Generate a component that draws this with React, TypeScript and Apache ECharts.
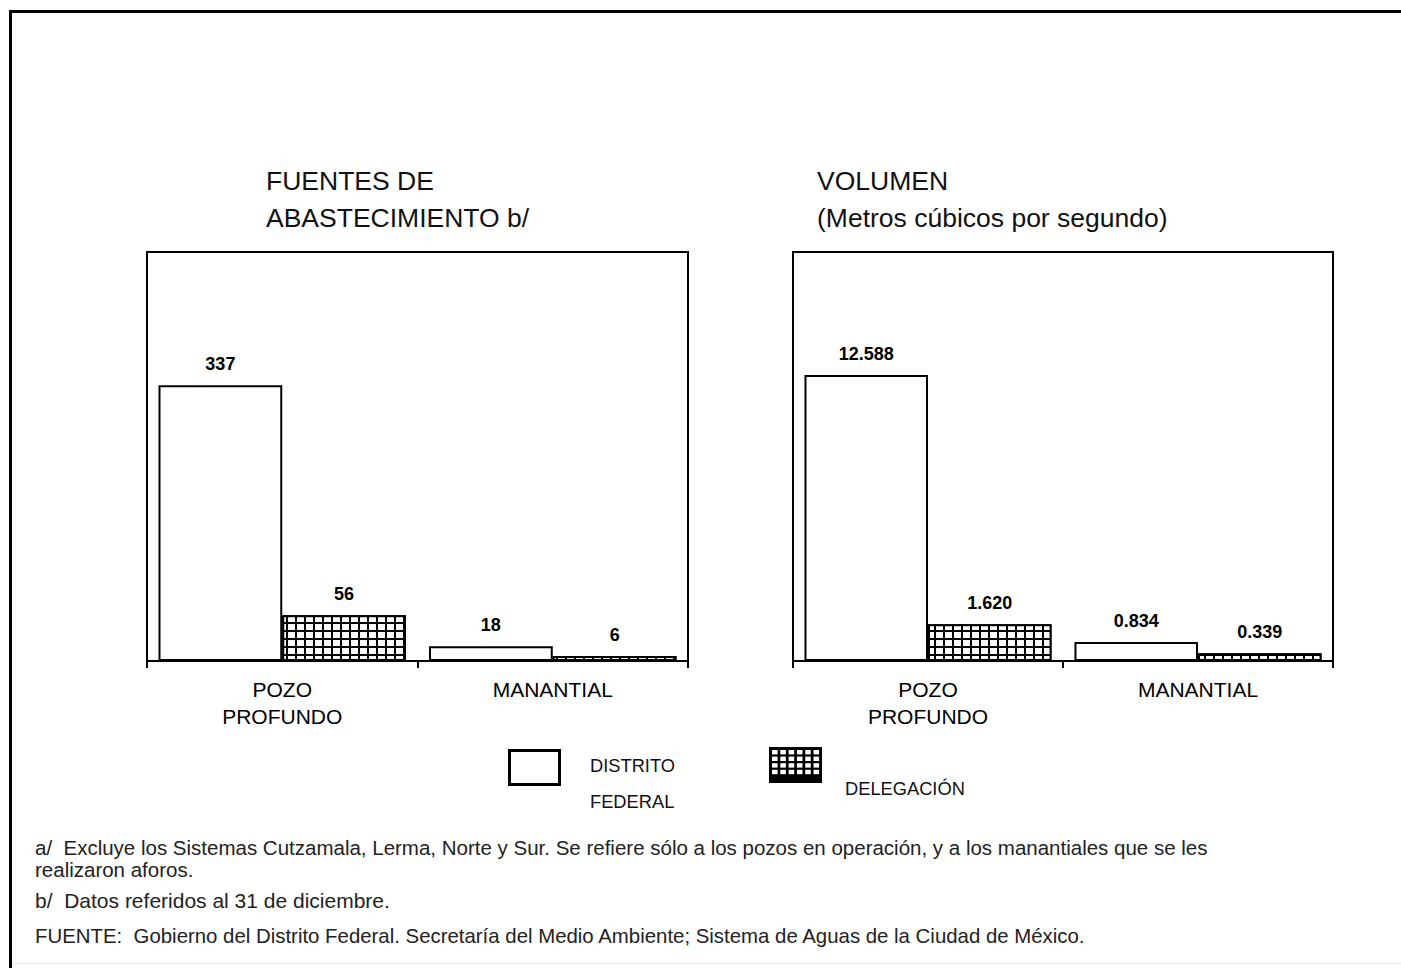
import React, { useEffect, useRef } from "react";
import * as echarts from "echarts";

const categories = ["POZO\nPROFUNDO", "MANANTIAL"];
const seriesNames = ["DISTRITO FEDERAL", "DELEGACIÓN"];
const fuentesDF = [337, 18];
const fuentesDel = [56, 6];
const volumenDF = [12.588, 0.834];
const volumenDel = [1.62, 0.339];
const volumenLabels = { df: ["12.588", "0.834"], del: ["1.620", "0.339"] };
const fuentesMax = 500;
const volumenMax = 18;

const FONT = "Liberation Sans, Arial, Helvetica, sans-serif";

const footnotes = [
  "a/  Excluye los Sistemas Cutzamala, Lerma, Norte y Sur. Se refiere sólo a los pozos en operación, y a los manantiales que se les",
  "realizaron aforos.",
  "b/  Datos referidos al 31 de diciembre.",
  "FUENTE:  Gobierno del Distrito Federal. Secretaría del Medio Ambiente; Sistema de Aguas de la Ciudad de México.",
];

export default function App() {
  const ref = useRef<HTMLDivElement>(null);
  useEffect(() => {
    if (!ref.current) return;
    const chart = echarts.init(ref.current, null, { renderer: "svg" });

    const decal = {
      symbol: "rect",
      symbolSize: 1,
      color: "#ffffff",
      dashArrayX: [7, 2],
      dashArrayY: [6, 2],
      rotation: 0,
    };
    const labelStyle = {
      show: true,
      position: "top" as const,
      distance: 12,
      color: "#000",
      fontFamily: FONT,
      fontWeight: "bold" as const,
      fontSize: 18,
    };
    const mkSeries = (xi: number, df: number[], del: number[], dfLab?: string[], delLab?: string[]) => [
      {
        name: seriesNames[0],
        type: "bar",
        xAxisIndex: xi,
        yAxisIndex: xi,
        data: df,
        barGap: "0%",
        barCategoryGap: "8.5%",
        itemStyle: { color: "#ffffff", borderColor: "#000", borderWidth: 2 },
        label: { ...labelStyle, formatter: dfLab ? (p: any) => dfLab[p.dataIndex] : "{c}" },
      },
      {
        name: seriesNames[1],
        type: "bar",
        xAxisIndex: xi,
        yAxisIndex: xi,
        data: del,
        barGap: "0%",
        barCategoryGap: "8.5%",
        itemStyle: { color: "#000000", borderColor: "#000", borderWidth: 2, decal },
        label: { ...labelStyle, formatter: delLab ? (p: any) => delLab[p.dataIndex] : "{c}" },
      },
    ];
    const xAxis = (gi: number) => ({
      type: "category",
      gridIndex: gi,
      data: categories,
      axisLine: { show: true, lineStyle: { color: "#000", width: 2 } },
      axisTick: { show: true, length: 7, lineStyle: { color: "#000", width: 2 } },
      axisLabel: {
        color: "#000",
        fontFamily: FONT,
        fontSize: 21,
        lineHeight: 27,
        margin: 15,
        interval: 0,
      },
    });
    const yAxis = (gi: number, max: number) => ({
      type: "value",
      gridIndex: gi,
      min: 0,
      max,
      show: false,
      splitLine: { show: false },
    });

    const texts: any[] = [];
    const addText = (t: string, x: number, y: number, size: number, fill = "#111") =>
      texts.push({
        type: "text",
        x,
        y,
        style: { text: t, fontSize: size, fontFamily: FONT, fill, verticalAlign: "middle", align: "left" },
      });
    addText("FUENTES DE", 266, 181, 26.5);
    addText("ABASTECIMIENTO b/", 266, 218, 26.5);
    addText("VOLUMEN", 817, 181, 26.5);
    addText("(Metros cúbicos por segundo)", 817, 218, 26.5);
    addText("DISTRITO", 590, 765, 18.3);
    addText("FEDERAL", 590, 801, 18.3);
    addText("DELEGACIÓN", 845, 788, 18.3);
    addText(footnotes[0], 35, 847, 20.5, "#222");
    addText(footnotes[1], 35, 869.5, 20.5, "#222");
    addText(footnotes[2], 35, 900, 21, "#222");
    addText(footnotes[3], 35, 936, 20.4, "#222");

    const icon: any[] = [
      { type: "rect", shape: { x: 769, y: 747, width: 53, height: 36 }, style: { fill: "#000" } },
    ];
    for (let c = 0; c < 6; c++) {
      for (let r = 0; r < 4; r++) {
        icon.push({
          type: "rect",
          shape: { x: 772 + c * 8.3, y: 750 + r * 6.6, width: 5.6, height: 4.4 },
          style: { fill: "#fff" },
        });
      }
    }

    chart.setOption({
      animation: false,
      backgroundColor: "#ffffff",
      grid: [
        { left: 147, right: 713, top: 252, bottom: 307, show: true, borderColor: "#000", borderWidth: 2, backgroundColor: "transparent" },
        { left: 793, right: 68, top: 252, bottom: 307, show: true, borderColor: "#000", borderWidth: 2, backgroundColor: "transparent" },
      ],
      xAxis: [xAxis(0), xAxis(1)],
      yAxis: [yAxis(0, fuentesMax), yAxis(1, volumenMax)],
      series: [
        ...mkSeries(0, fuentesDF, fuentesDel),
        ...mkSeries(1, volumenDF, volumenDel, volumenLabels.df, volumenLabels.del),
      ],
      graphic: [
        {
          type: "rect",
          shape: { x: 10.5, y: 11.5, width: 1420, height: 1000 },
          style: { fill: "none", stroke: "#000", lineWidth: 3 },
          silent: true,
        },
        {
          type: "line",
          shape: { x1: 12, y1: 963.5, x2: 1401, y2: 963.5 },
          style: { stroke: "#ececec", lineWidth: 1 },
        },
        {
          type: "rect",
          shape: { x: 509.5, y: 750.5, width: 50, height: 34 },
          style: { fill: "#fff", stroke: "#000", lineWidth: 3 },
        },
        ...icon,
        ...texts,
      ],
    });
    return () => chart.dispose();
  }, []);
  return (
    <div
      ref={ref}
      style={{ position: "fixed", left: 0, top: 0, width: 1401, height: 968, background: "#fff" }}
    />
  );
}
